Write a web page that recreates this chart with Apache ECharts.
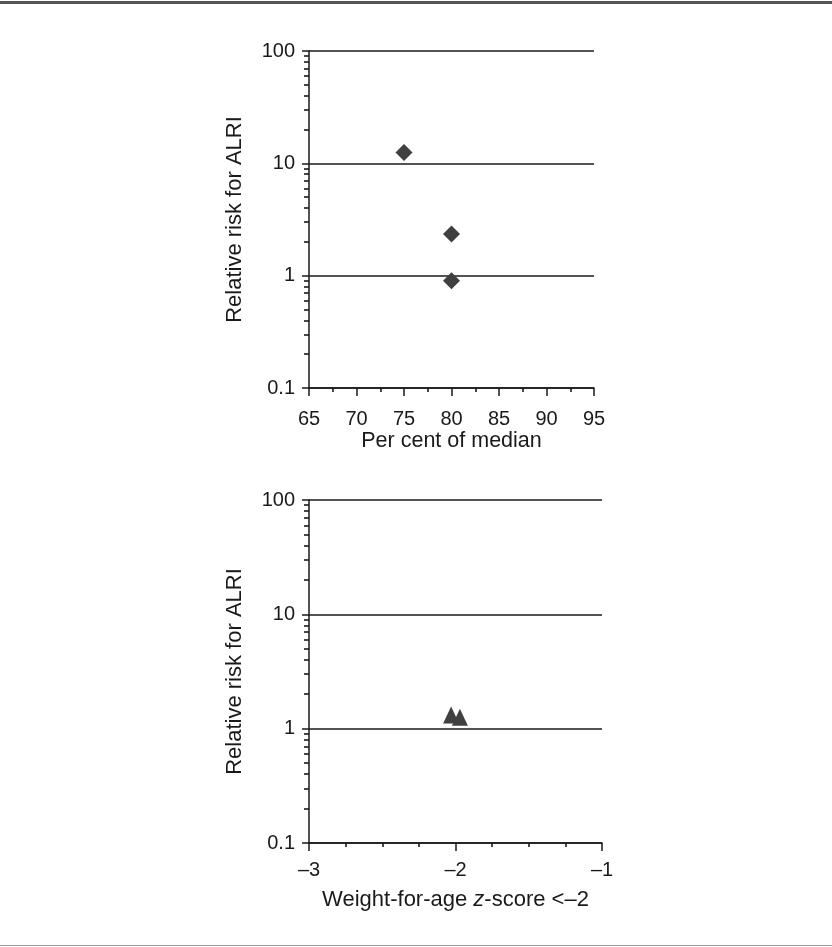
<!DOCTYPE html>
<html>
<head>
<meta charset="utf-8">
<script src="https://cdn.jsdelivr.net/npm/echarts@6/dist/echarts.min.js"></script>
<style>
  html, body { margin: 0; padding: 0; background: #fff; }
  #chart { width: 832px; height: 947px; }
</style>
</head>
<body>
<div id="chart"></div>
<script>
// Relative risk for ALRI against two anthropometric cut-offs
const pctMedian = [75, 80, 80];          // per cent of median
const rrPctMedian = [12.5, 2.35, 0.9];   // relative risk
const zScore = [-2.03, -1.97];           // weight-for-age z-score
const rrZScore = [1.32, 1.26];           // relative risk

const logTicks = [0.1, 1, 10, 100];
const pctTicks = [65, 70, 75, 80, 85, 90, 95];
const zTicks = [-3, -2, -1];

// 2..9 within each decade for the short log ticks
const logMinorTicks = [];
for (let d = 0; d < logTicks.length - 1; d++) {
  for (let m = 2; m <= 9; m++) logMinorTicks.push(+(logTicks[d] * m).toPrecision(3));
}

const ink = '#1a1a1a';
const font = 'Liberation Sans, Arial, sans-serif';
const labelStyle = { color: ink, fontSize: 20, fontFamily: font };
const nameStyle = { color: ink, fontSize: 21.5, fontFamily: font };

function mainY(gridIndex) {
  return {
    type: 'log', logBase: 10, gridIndex, position: 'left',
    min: logTicks[0], max: logTicks[logTicks.length - 1],
    name: 'Relative risk for ALRI', nameLocation: 'middle', nameGap: 63,
    nameTextStyle: { ...nameStyle, fontSize: 22 },
    axisLine: { show: true, lineStyle: { color: ink, width: 1.5 } },
    axisTick: { show: true, length: 7, lineStyle: { color: ink, width: 1.5 } },
    axisLabel: { ...labelStyle, margin: 14, formatter: v => String(v) },
    splitLine: { show: true, lineStyle: { color: ink, width: 1.6 } },
    minorTick: { show: false }
  };
}
function minorY(gridIndex) {
  return {
    type: 'log', logBase: 10, gridIndex, position: 'left', offset: 0,
    min: logTicks[0], max: logTicks[logTicks.length - 1],
    axisLine: { show: false },
    axisTick: { show: true, length: 5, customValues: logMinorTicks, lineStyle: { color: ink, width: 1.6 } },
    axisLabel: { show: false },
    splitLine: { show: false }
  };
}

const option = {
  backgroundColor: '#fff',
  animation: false,
  grid: [
    { left: 309, right: 238, top: 51, height: 337 },
    { left: 309, right: 230, top: 500, height: 343 }
  ],
  xAxis: [
    {
      type: 'value', gridIndex: 0,
      min: pctTicks[0], max: pctTicks[pctTicks.length - 1], interval: 5,
      name: 'Per cent of median', nameLocation: 'middle', nameGap: 36,
      nameTextStyle: nameStyle,
      axisLine: { onZero: false, lineStyle: { color: ink, width: 1.5 } },
      axisTick: { show: true, length: 8, lineStyle: { color: ink, width: 1.5 } },
      minorTick: { show: true, splitNumber: 2, length: 4, lineStyle: { color: ink, width: 1.6 } },
      axisLabel: { ...labelStyle, margin: 21 },
      splitLine: { show: false }
    },
    {
      type: 'value', gridIndex: 1,
      min: zTicks[0], max: zTicks[zTicks.length - 1], interval: 1,
      name: '{n|Weight-for-age }{i|z}{n|-score <–2}', nameLocation: 'middle', nameGap: 46,
      nameTextStyle: {
        ...nameStyle,
        rich: {
          n: { ...nameStyle, fontSize: 22 },
          i: { ...nameStyle, fontSize: 22, fontStyle: 'italic' }
        }
      },
      axisLine: { onZero: false, lineStyle: { color: ink, width: 1.5 } },
      axisTick: { show: true, length: 8, lineStyle: { color: ink, width: 1.5 } },
      minorTick: { show: true, splitNumber: 4, length: 4, lineStyle: { color: ink, width: 1.6 } },
      axisLabel: { ...labelStyle, margin: 17, formatter: v => String(v).replace('-', '–') },
      splitLine: { show: false }
    }
  ],
  yAxis: [mainY(0), minorY(0), mainY(1), minorY(1)],
  series: [
    {
      type: 'scatter', xAxisIndex: 0, yAxisIndex: 0,
      symbol: 'diamond', symbolSize: 17,
      itemStyle: { color: '#404040', opacity: 1 },
      data: pctMedian.map((x, i) => [x, rrPctMedian[i]])
    },
    {
      type: 'scatter', xAxisIndex: 1, yAxisIndex: 2,
      symbol: 'triangle', symbolSize: [16, 17],
      itemStyle: { color: '#404040', opacity: 1 },
      data: zScore.map((x, i) => [x, rrZScore[i]])
    }
  ],
  graphic: [
    { type: 'rect', shape: { x: 0, y: 1, width: 832, height: 3 }, style: { fill: '#555' }, silent: true },
    { type: 'rect', shape: { x: 0, y: 945, width: 832, height: 1 }, style: { fill: '#9a9a9a' }, silent: true }
  ]
};

const chart = echarts.init(document.getElementById('chart'), null, { renderer: 'canvas' });
chart.setOption(option);
</script>
</body>
</html>
